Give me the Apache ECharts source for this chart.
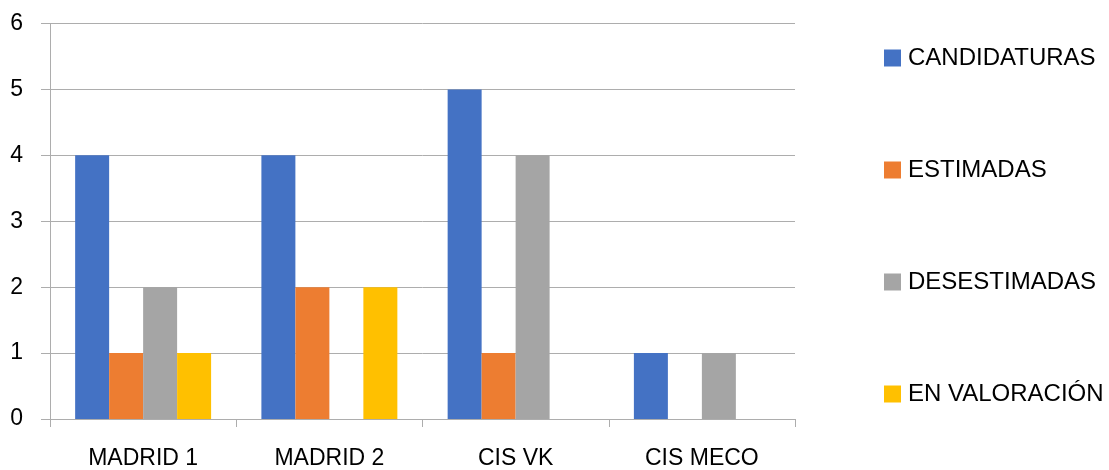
<!DOCTYPE html>
<html>
<head>
<meta charset="utf-8">
<script src="https://cdn.jsdelivr.net/npm/echarts@6/dist/echarts.min.js"></script>
<style>
  html, body { margin: 0; padding: 0; background: #ffffff; }
  #chart { width: 1109px; height: 470px; }
</style>
</head>
<body>
<div id="chart"></div>
<script>
// Sites and the number of applications in each state
const categories = ['MADRID 1', 'MADRID 2', 'CIS VK', 'CIS MECO'];
const seriesNames = ['CANDIDATURAS', 'ESTIMADAS', 'DESESTIMADAS', 'EN VALORACIÓN'];
const candidaturas = [4, 4, 5, 1];
const estimadas = [1, 2, 1, 0];
const desestimadas = [2, 0, 4, 1];
const enValoracion = [1, 2, 0, 0];
const yTicks = [0, 1, 2, 3, 4, 5, 6];

const colors = ['#4472C4', '#ED7D31', '#A5A5A5', '#FFC000'];
const values = [candidaturas, estimadas, desestimadas, enValoracion];
const FONT = '"Liberation Sans", Arial, sans-serif';
const LINE = '#ADADAD';

const chart = echarts.init(document.getElementById('chart'), null, { renderer: 'canvas' });

chart.setOption({
  animation: false,
  backgroundColor: '#ffffff',
  textStyle: { fontFamily: FONT },
  grid: { left: 50, right: 314, top: 23.5, bottom: 45.7, containLabel: false },
  legend: {
    orient: 'vertical',
    left: 884,
    top: 46,
    padding: 0,
    itemWidth: 17,
    itemHeight: 17,
    itemGap: 88,
    icon: 'rect',
    data: seriesNames,
    textStyle: { fontSize: 24, color: '#000000', fontFamily: FONT, padding: [0, 0, 0, 2] }
  },
  xAxis: {
    type: 'category',
    data: categories,
    axisLine: { show: true, lineStyle: { color: LINE, width: 1 } },
    axisTick: { show: true, length: 8, alignWithLabel: false, lineStyle: { color: LINE, width: 1 } },
    axisLabel: { fontSize: 23, color: '#000000', margin: 28, fontFamily: FONT },
    splitLine: { show: false }
  },
  yAxis: {
    type: 'value',
    min: yTicks[0],
    max: yTicks[yTicks.length - 1],
    interval: 1,
    axisLine: { show: true, lineStyle: { color: LINE, width: 1 } },
    axisTick: { show: true, length: 9, lineStyle: { color: LINE, width: 1 } },
    axisLabel: { fontSize: 23, color: '#000000', margin: 27, fontFamily: FONT },
    splitLine: { show: true, lineStyle: { color: LINE, width: 1 } }
  },
  series: seriesNames.map((name, i) => ({
    name: name,
    type: 'bar',
    data: values[i],
    barGap: '0%',
    barCategoryGap: '27%',
    itemStyle: { color: colors[i] }
  }))
});
</script>
</body>
</html>
